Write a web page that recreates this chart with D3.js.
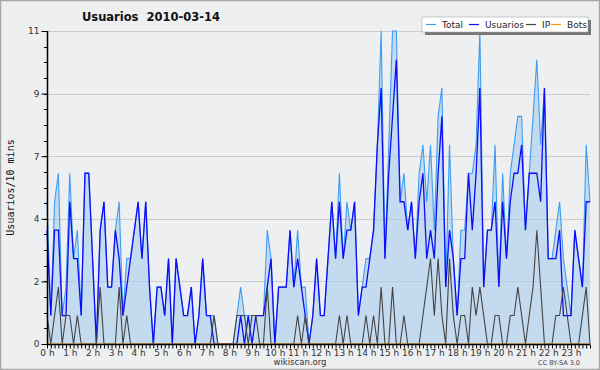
<!DOCTYPE html>
<html>
<head>
<meta charset="utf-8">
<script src="https://cdn.jsdelivr.net/npm/d3@7"></script>
<style>
  html, body { margin: 0; padding: 0; background: #eeeff1; }
  svg { display: block; font-family: "DejaVu Sans", sans-serif; }
</style>
</head>
<body>
<div id="chart"></div>
<script>
// Users per 10 minutes, 144 samples (00:00 .. 23:50)
var total = [
  5, 1, 5, 6, 1, 2, 6, 3, 4, 1, 6, 6, 3, 0, 4, 5, 2, 2, 4, 5, 1, 3, 3, 4,
  5, 3, 5, 2, 0, 2, 2, 1, 3, 0, 3, 2, 1, 1, 2, 0, 1, 3, 1, 1, 1, 0, 0, 0,
  0, 0, 1, 2, 1, 1, 1, 1, 1, 1, 4, 3, 0, 2, 2, 2, 4, 2, 4, 2, 2, 0, 1, 3,
  1, 1, 3, 5, 3, 6, 3, 5, 4, 5, 1, 2, 3, 3, 4, 7, 11, 3, 7, 11, 11, 5, 6, 4,
  5, 3, 6, 7, 5, 7, 4, 8, 9, 2, 7, 3, 1, 4, 4, 6, 6, 7, 11, 2, 4, 4, 7, 2,
  6, 3, 6, 7, 8, 8, 4, 6, 8, 10, 7, 9, 3, 3, 4, 5, 3, 2, 1, 4, 3, 2, 7, 5];
var usuarios = [
  4, 1, 4, 4, 1, 1, 5, 3, 3, 1, 6, 6, 3, 0, 4, 5, 2, 2, 4, 3, 1, 2, 3, 4,
  5, 3, 5, 2, 0, 2, 2, 1, 3, 0, 3, 2, 1, 1, 2, 0, 1, 3, 1, 1, 0, 0, 0, 0,
  0, 0, 0, 1, 0, 1, 0, 1, 1, 1, 2, 3, 0, 2, 2, 2, 4, 2, 3, 2, 1, 0, 1, 3,
  1, 1, 3, 5, 3, 5, 3, 4, 4, 5, 1, 2, 2, 3, 4, 7, 9, 3, 6, 8, 10, 5, 5, 4,
  5, 3, 5, 6, 3, 4, 3, 6, 8, 2, 4, 3, 1, 3, 3, 6, 4, 6, 9, 2, 4, 4, 5, 2,
  5, 3, 5, 6, 6, 7, 4, 6, 6, 6, 5, 9, 3, 3, 3, 4, 1, 1, 1, 4, 3, 2, 5, 5];
var ip = [
  1, 0, 1, 2, 0, 1, 1, 0, 1, 0, 0, 0, 0, 0, 2, 0, 0, 0, 0, 2, 0, 1, 0, 0,
  0, 0, 0, 0, 0, 0, 0, 0, 0, 0, 0, 0, 0, 0, 0, 0, 0, 0, 0, 0, 1, 0, 0, 0,
  0, 0, 1, 1, 1, 0, 1, 1, 0, 0, 2, 0, 0, 0, 0, 0, 0, 0, 1, 0, 1, 0, 0, 0,
  0, 0, 0, 0, 0, 1, 0, 1, 0, 0, 0, 0, 1, 0, 1, 0, 2, 0, 0, 2, 0, 0, 1, 0,
  0, 0, 0, 1, 2, 3, 1, 3, 1, 0, 3, 1, 0, 1, 1, 0, 2, 1, 2, 1, 0, 0, 1, 1,
  0, 0, 1, 1, 2, 1, 0, 1, 2, 4, 2, 0, 0, 0, 1, 1, 2, 1, 0, 0, 0, 1, 2, 0];
var bots = d3.range(144).map(function() { return 0; });

var seriesNames = ['Total', 'Usuarios', 'IP', 'Bots'];
var seriesColors = ['#3d9df2', '#0d0dfa', '#444444', '#ff9900'];
var hourLabels = d3.range(24).map(function(h) { return h + ' h'; });
var yTicks = [0, 2.2, 4.4, 6.6, 8.8, 11];

var W = 600, H = 370;
var M = { left: 47, right: 10, top: 31, bottom: 26 };

var svg = d3.select('#chart').append('svg')
  .attr('width', W).attr('height', H);

// Background and frame
svg.append('rect').attr('x', 0).attr('y', 0).attr('width', W).attr('height', H)
  .attr('fill', '#eeeff1');
svg.append('rect').attr('x', 0.5).attr('y', 0.5).attr('width', W - 1).attr('height', H - 1)
  .attr('fill', 'none').attr('stroke', '#a8a8a8').attr('stroke-width', 1.5);

var x = d3.scaleLinear().domain([0, 143]).range([M.left, W - M.right]);
var y = d3.scaleLinear().domain([0, 11]).range([H - M.bottom, M.top]);

// Grid lines
svg.append('g').selectAll('line').data(yTicks.slice(1)).enter().append('line')
  .attr('x1', M.left).attr('x2', W - M.right)
  .attr('y1', function(d) { return Math.round(y(d)) + 0.5; })
  .attr('y2', function(d) { return Math.round(y(d)) + 0.5; })
  .attr('stroke', '#cccccc').attr('stroke-width', 1);

// Filled area under the total
var area = d3.area().x(function(d, i) { return x(i); })
  .y0(y(0)).y1(function(d) { return y(d); });
svg.append('path').datum(total).attr('d', area)
  .attr('fill', '#a9cdef').attr('fill-opacity', 0.6);

// Lines
var line = d3.line().x(function(d, i) { return x(i); }).y(function(d) { return y(d); });
[total, usuarios, ip, bots].forEach(function(s, k) {
  svg.append('path').datum(s).attr('d', line)
    .attr('fill', 'none').attr('stroke', seriesColors[k])
    .attr('stroke-width', k === 1 ? 1.3 : 1.1)
    .attr('stroke-linejoin', 'miter');
});

// Y axis with minor ticks
var yAxis = d3.axisLeft(y).tickValues(yTicks).tickSize(6).tickPadding(2)
  .tickFormat(function(d) { return Math.round(d); });
var gy = svg.append('g').attr('transform', 'translate(' + (M.left + 0.5) + ',0)').call(yAxis);
gy.select('.domain').remove();
gy.selectAll('text').attr('font-size', 9).attr('fill', '#333')
  .attr('font-family', '"DejaVu Sans", sans-serif');
svg.append('g').selectAll('line').data(d3.range(0, 11.01, 0.55)).enter().append('line')
  .attr('x1', M.left - 3).attr('x2', M.left)
  .attr('y1', function(d) { return Math.round(y(d)) + 0.5; })
  .attr('y2', function(d) { return Math.round(y(d)) + 0.5; })
  .attr('stroke', '#000');
svg.append('line').attr('x1', M.left + 0.5).attr('x2', M.left + 0.5)
  .attr('y1', y(11)).attr('y2', y(0) + 1).attr('stroke', '#000').attr('stroke-width', 1.5);

// X axis: a tick every 10 min, labels on the hours
var xAxis = d3.axisBottom(x).tickValues(d3.range(0, 144)).tickSize(4).tickPadding(1)
  .tickFormat(function(d) { return d % 6 === 0 ? hourLabels[d / 6] : ''; });
var gx = svg.append('g').attr('transform', 'translate(0,' + (y(0) + 0.5) + ')').call(xAxis);
gx.select('.domain').remove();
gx.selectAll('text').attr('font-size', 9).attr('fill', '#333')
  .attr('font-family', '"DejaVu Sans", sans-serif');
svg.append('line').attr('x1', M.left).attr('x2', W - M.right)
  .attr('y1', y(0) + 0.5).attr('y2', y(0) + 0.5).attr('stroke', '#000').attr('stroke-width', 1.5);

// Title and labels
svg.append('text').attr('x', 151).attr('y', 21).attr('text-anchor', 'middle')
  .attr('font-size', 11.5).attr('font-weight', 'bold').attr('fill', '#111')
  .text('Usuarios  2010-03-14').style('white-space', 'pre');
svg.append('text').attr('transform', 'translate(14,' + ((M.top + y(0)) / 2) + ') rotate(-90)')
  .attr('text-anchor', 'middle').attr('font-size', 10)
  .attr('font-family', '"DejaVu Sans Mono", monospace').attr('fill', '#111')
  .text('Usuarios/10 mins');
svg.append('text').attr('x', 300).attr('y', 365).attr('text-anchor', 'middle')
  .attr('font-size', 8.5).attr('fill', '#333').text('wikiscan.org');
svg.append('text').attr('x', 580).attr('y', 365).attr('text-anchor', 'end')
  .attr('font-size', 6.5).attr('fill', '#444').text('CC BY-SA 3.0');

// Legend with drop shadow
var lg = svg.append('g').attr('transform', 'translate(422,17)');
lg.append('rect').attr('x', 3).attr('y', 3).attr('width', 166).attr('height', 15).attr('fill', '#777');
lg.append('rect').attr('x', 0).attr('y', 0).attr('width', 166).attr('height', 15)
  .attr('fill', '#fff').attr('stroke', '#999').attr('stroke-width', 0.5);
var legendX = [4, 47, 104, 129];
seriesNames.forEach(function(n, k) {
  lg.append('line').attr('x1', legendX[k]).attr('x2', legendX[k] + 10)
    .attr('y1', 7.5).attr('y2', 7.5).attr('stroke', seriesColors[k]).attr('stroke-width', 1.2);
  lg.append('text').attr('x', legendX[k] + 16).attr('y', 11.2).attr('font-size', 9)
    .attr('fill', '#222').text(n);
});
</script>
</body>
</html>
